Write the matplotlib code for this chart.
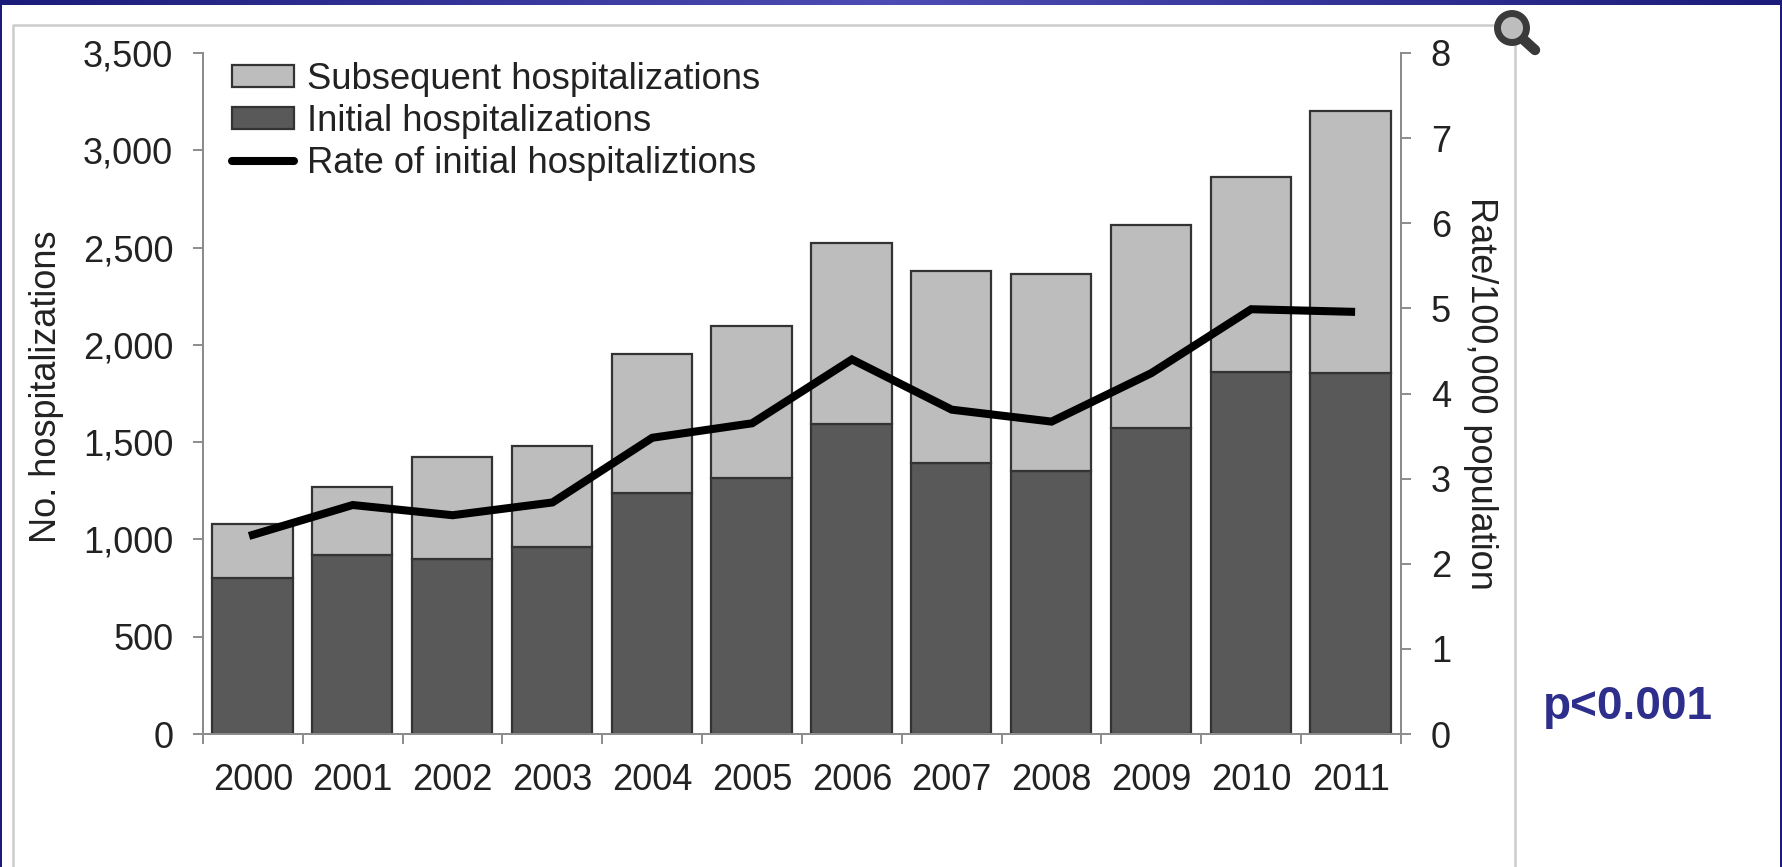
import numpy as np
import matplotlib
matplotlib.use('Agg')
import matplotlib.pyplot as plt
from matplotlib.patches import Circle, Patch
from matplotlib.lines import Line2D

plt.rcParams['font.family'] = ['Liberation Sans', 'DejaVu Sans']

years = ['2000', '2001', '2002', '2003', '2004', '2005', '2006', '2007', '2008', '2009', '2010', '2011']
initial = [802, 919, 901, 960, 1241, 1317, 1592, 1393, 1352, 1574, 1861, 1855]
subsequent = [275, 351, 521, 521, 714, 778, 930, 989, 1012, 1042, 1001, 1346]
rate = [2.34, 2.69, 2.57, 2.72, 3.48, 3.65, 4.40, 3.81, 3.67, 4.24, 4.99, 4.96]

W, H = 1783, 867
text_col = '#222222'
axis_col = '#8c8c8c'
edge_col = '#333333'

fig = plt.figure(figsize=(W / 100, H / 100), dpi=100, facecolor='white')

# slide background: frame, gradient band, magnifier
bg = fig.add_axes([0, 0, 1, 1], zorder=0)
bg.set_xlim(0, W)
bg.set_ylim(H, 0)
bg.axis('off')
grad = np.abs(np.linspace(-1, 1, 400)).reshape(1, -1)
band = matplotlib.colors.LinearSegmentedColormap.from_list('band', ['#4c4cb4', '#1b1b7a'])
bg.imshow(grad, cmap=band, extent=[0, W, 5, 0], aspect='auto')
bg.set_xlim(0, W)
bg.set_ylim(H, 0)
bg.fill_between([0, 2], 0, H, color='#1b1b7a', lw=0)
bg.fill_between([1780, W], 0, H, color='#1b1b7a', lw=0)
bg.plot([13, 13, 1515, 1515], [H, 25, 25, H], color='#cccccc', lw=1.8)

# chart
ax = fig.add_axes([203 / W, 1 - 734 / H, (1401 - 203) / W, (734 - 53) / H], zorder=1)
ax.patch.set_alpha(0)
x = np.arange(len(years))
ax.bar(x - 0.005, initial, width=0.805, color='#595959', edgecolor=edge_col, linewidth=1.6)
ax.bar(x - 0.005, subsequent, width=0.805, bottom=initial, color='#bdbdbd', edgecolor=edge_col, linewidth=1.6)
ax.set_xlim(-0.5, 11.5)
ax.set_ylim(0, 3500)
ax.set_yticks(range(0, 3501, 500))
ax.set_yticklabels(['0', '500', '1,000', '1,500', '2,000', '2,500', '3,000', '3,500'])
ax.set_xticks(np.arange(-0.5, 12, 1))
ax.set_xticklabels([])
ax.set_xticks(x, minor=True)
ax.set_xticklabels(years, minor=True)
ax.tick_params(axis='x', which='major', length=7.5, width=1.4, color=axis_col)
ax.tick_params(axis='x', which='minor', length=0, pad=21, labelsize=26, labelcolor=text_col)
ax.tick_params(axis='y', length=7.5, width=1.4, color=axis_col, pad=14, labelsize=26, labelcolor=text_col)
ax.spines['top'].set_visible(False)
for s in ['left', 'right', 'bottom']:
    ax.spines[s].set_color(axis_col)
    ax.spines[s].set_linewidth(1.4)
fig.text(47 / W, 1 - 387 / H, 'No. hospitalizations', rotation=90, fontsize=26,
         color=text_col, ha='center', va='center')

ax2 = ax.twinx()
ax2.plot(x, rate, color='black', lw=5.8, solid_joinstyle='miter')
ax2.set_ylim(0, 8)
ax2.set_yticks(range(0, 9))
ax2.tick_params(axis='y', length=7.5, width=1.4, color=axis_col, pad=14, labelsize=26, labelcolor=text_col)
ax2.spines['top'].set_visible(False)
for s in ['left', 'right', 'bottom']:
    ax2.spines[s].set_color(axis_col)
    ax2.spines[s].set_linewidth(1.4)
fig.text(1481 / W, 1 - 393 / H, 'Rate/100,000 population', rotation=270, fontsize=26,
         color=text_col, ha='center', va='center')

handles = [Patch(facecolor='#bdbdbd', edgecolor=edge_col, linewidth=1.6),
           Patch(facecolor='#595959', edgecolor=edge_col, linewidth=1.6),
           Line2D([0], [0], color='black', lw=5.8, solid_capstyle='round')]
labels = ['Subsequent hospitalizations', 'Initial hospitalizations', 'Rate of initial hospitaliztions']
ax2.legend(handles, labels, loc='upper left', bbox_to_anchor=(232 / W, 1 - 62 / H),
           bbox_transform=fig.transFigure, frameon=False, fontsize=26.2, labelcolor=text_col,
           borderpad=0, borderaxespad=0, handlelength=1.7, handleheight=0.55,
           handletextpad=0.36, labelspacing=0.19)

fig.text(1543 / W, 1 - 719 / H, 'p<0.001', fontsize=33, fontweight='bold', color='#2e2e8c',
         ha='left', va='baseline')

# magnifier on top of everything
top = fig.add_axes([0, 0, 1, 1], zorder=3)
top.set_xlim(0, W)
top.set_ylim(H, 0)
top.axis('off')
top.plot([1524, 1535], [40, 50], color='#3a3a3a', lw=7.5, solid_capstyle='round')
top.add_patch(Circle((1512, 28), 14.5, facecolor='#bdbdbd', edgecolor='#3a3a3a', linewidth=5))

fig.savefig('out.png', dpi=100)
